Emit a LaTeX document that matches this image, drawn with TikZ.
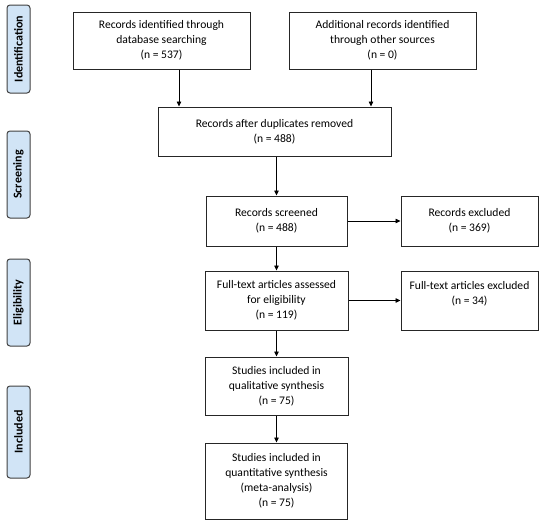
\documentclass[tikz,border=0pt]{standalone}
\usepackage{fontspec}
\setmainfont{Carlito}
\usetikzlibrary{arrows.meta,positioning}
\definecolor{phaseblue}{RGB}{209,228,246}

\begin{document}
\begin{tikzpicture}[x=1pt,y=-1pt,
		box/.style={draw=black!85,line width=1pt,align=center,inner sep=2pt,font=\fontsize{11.6}{15}\selectfont},
		phase/.style={draw=black!75,fill=phaseblue,rounded corners=3pt,line width=1pt,rotate=90,minimum height=23pt,inner sep=1pt,font=\bfseries\fontsize{12}{13}\selectfont},
		arr/.style={-{Triangle[length=5pt,width=4.5pt]},line width=0.8pt}]
			\useasboundingbox (0,0) rectangle (550,522);
			% phases
			\node[phase,minimum width=88pt] (idf) at (18.5,49) {Identification};
			\node[phase,minimum width=87pt] (scr) at (18.5,174.5) {Screening};
			\node[phase,minimum width=87pt] (elg) at (18.5,302.5) {Eligibility};
			\node[phase,minimum width=92pt] (inc) at (18.5,432) {Included};
			% boxes
			\node[box,minimum width=177pt,minimum height=57pt] (db) at (161.5,40.5) {Records identified through\\database searching\\(n = 537)};
			\node[box,minimum width=187pt,minimum height=57pt] (oth) at (382.5,40.5) {Additional records identified\\through other sources\\(n = 0)};
			\node[box,minimum width=233pt,minimum height=49pt] (dup) at (274.5,131.5) {Records after duplicates removed\\(n = 488)};
			\node[box,minimum width=141pt,minimum height=50pt] (scrd) at (276.5,221) {Records screened\\(n = 488)};
			\node[box,minimum width=137pt,minimum height=50pt] (excl) at (469.5,221) {Records excluded\\(n = 369)};
			\node[box,minimum width=143pt,minimum height=59pt] (full) at (276.5,300.5) {Full-text articles assessed\\for eligibility\\(n = 119)};
			\node[box,minimum width=137pt,minimum height=59pt] (fexcl) at (469.5,300.5) {Full-text articles excluded\\(n = 34)\\~};
			\node[box,minimum width=143pt,minimum height=58pt] (qual) at (276.5,386) {Studies included in\\qualitative synthesis\\(n = 75)};
			\node[box,minimum width=142pt,minimum height=76pt] (quant) at (276.5,481) {Studies included in\\quantitative synthesis\\(meta-analysis)\\(n = 75)};
			% arrows
			\draw[arr] ([xshift=17.5pt]db.south) -- ([xshift=17.5pt]db.south |- dup.north);
			\draw[arr] ([xshift=-11.5pt]oth.south) -- ([xshift=-11.5pt]oth.south |- dup.north);
			\draw[arr] (dup.south -| scrd.north) -- (scrd.north);
			\draw[arr] (scrd.east) -- (excl.west);
			\draw[arr] (scrd.south) -- (full.north);
			\draw[arr] (full.east) -- (fexcl.west);
			\draw[arr] (full.south) -- (qual.north);
			\draw[arr] (qual.south) -- (quant.north);
		\end{tikzpicture}
\end{document}
